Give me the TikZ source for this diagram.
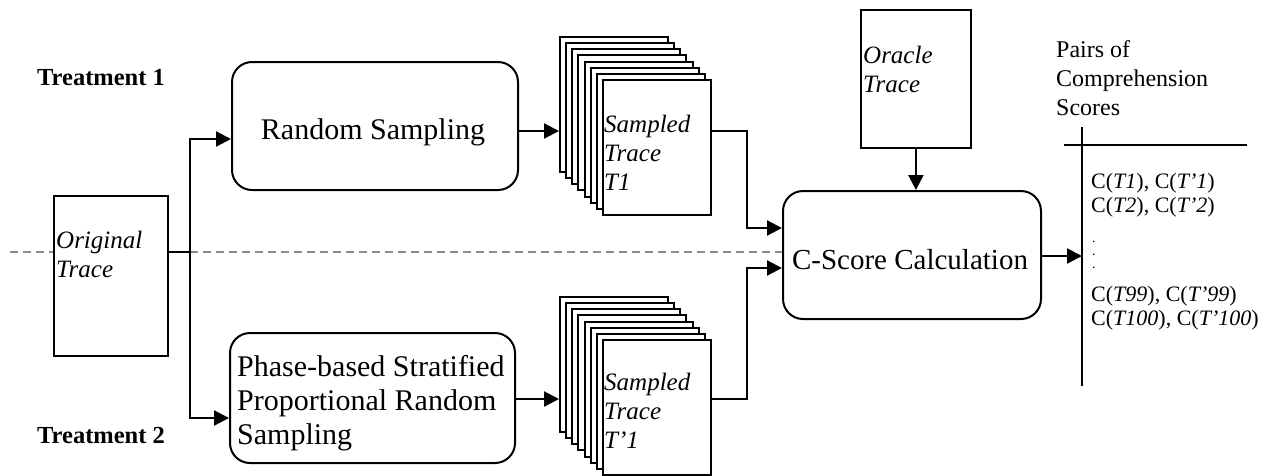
\documentclass[tikz,border=0pt]{standalone}
\usepackage{fontspec}
\setmainfont{Liberation Serif}
\usetikzlibrary{arrows.meta}
\newcommand\stacklines[1]{\begin{tabular}[t]{@{}l@{}}#1\end{tabular}}
\begin{document}
\begin{tikzpicture}[x=1pt,y=-1pt,
  rbox/.style={draw, line width=2pt, rounded corners=20pt, fill=white, inner sep=0pt, anchor=north west},
  trbox/.style={draw, line width=1.8pt, fill=white, anchor=north west, inner sep=0pt},
  page/.style={draw, line width=2pt, fill=white, anchor=north west, minimum width=108pt, minimum height=135pt, inner sep=0pt},
  conn/.style={line width=2.2pt},
  arr/.style={conn, -{Triangle[length=15pt,width=15pt]}},
  lbl/.style={anchor=base west, inner sep=0pt},
  trace/.style={lbl, font=\fontsize{25}{29}\selectfont\itshape},
  big/.style={inner sep=0pt, font=\fontsize{30}{34}\selectfont},
  treat/.style={lbl, font=\fontsize{24.5}{29}\selectfont\bfseries},
  score/.style={lbl, font=\fontsize{22}{24.5}\selectfont},
  sep/.style={line width=1.6pt, draw=black!45, dash pattern=on 8pt off 5pt}
]
\useasboundingbox (0,0) rectangle (1279,475);

% boxes
\node[trbox, minimum width=114pt, minimum height=160pt] (orig) at (53,195) {};
\node[rbox, minimum width=286pt, minimum height=128pt] (rs) at (231,61) {};
\node[rbox, minimum width=285pt, minimum height=130pt] (ps) at (229,332) {};
\node[rbox, minimum width=258pt, minimum height=128pt] (cs) at (782,190) {};
\node[trbox, minimum width=110pt, minimum height=138pt] (oracle) at (860,9) {};

\coordinate (dashL) at (10,252);

% stacks
\foreach \i in {0,...,7}{
  \node[page] (sa\i) at ({559+6.14*\i},{36+6.14*\i}) {};
}
\foreach \i in {0,...,7}{
  \node[page] (sb\i) at ({559+6.14*\i},{296+6.14*\i}) {};
}

% texts
\node[treat] (tr1) at (37,85) {Treatment 1};
\node[treat] (tr2) at (37,443) {Treatment 2};
\node[big, anchor=base] (rstxt) at (373,139) {Random Sampling};
\node[big, anchor=base west] (pstxt) at (237,376) {\stacklines{Phase-based Stratified\\Proportional Random\\Sampling}};
\node[inner sep=0pt, anchor=base, font=\fontsize{29}{34}\selectfont] (cstxt) at (910,269) {C-Score Calculation};
\node[trace] (origtxt) at (56,248) {\stacklines{Original\\Trace}};
\node[trace] (oracletxt) at (863,63) {\stacklines{Oracle\\Trace}};
\node[trace] (satxt) at (604,132) {\stacklines{Sampled\\Trace\\T1}};
\node[trace] (sbtxt) at (604,390) {\stacklines{Sampled\\Trace\\T’1}};
\node[lbl, font=\fontsize{24}{29}\selectfont] (pairs) at (1056,57) {\stacklines{Pairs of\\Comprehension\\Scores}};
\node[score] (sc1) at (1091,188) {\stacklines{C(\textit{T1}), C(\textit{T’1})\\C(\textit{T2}), C(\textit{T’2})}};
\node[lbl, font=\fontsize{14}{13}\selectfont] (dots) at (1092,242) {\stacklines{.\\.\\.}};
\node[score] (sc2) at (1091,301) {\stacklines{C(\textit{T99}), C(\textit{T’99})\\C(\textit{T100}), C(\textit{T’100})}};

% table lines
\coordinate (vtop) at (1082,127);
\coordinate (vbot) at (1082,386);
\coordinate (hl) at (1064,145);
\coordinate (hr) at (1247,145);
\draw[line width=2pt] (vtop) -- (vbot);
\draw[line width=2pt] (hl) -- (hr);

% connectors
\coordinate (split) at (190,252);
\draw[sep] (dashL) -- (orig.west |- dashL);
\draw[sep] (split) -- (dashL -| cs.west);
\draw[conn] (orig.east |- split) -- (split);
\draw[arr] (split) |- ([yshift=-13pt]rs.west);
\draw[arr] (split) |- ([yshift=-20pt]ps.west);
\draw[arr] ([yshift=-5pt]rs.east) -- ([yshift=-5pt]rs.east -| sa0.west);
\draw[arr] ([yshift=-1pt]ps.east) -- ([yshift=-1pt]ps.east -| sb0.west);
\draw[arr] ([yshift=16.5pt]sa7.east) -- ++(35,0) |- ([yshift=27pt]cs.west);
\draw[arr] ([yshift=8.5pt]sb7.east) -- ++(35,0) |- ([yshift=-13pt]cs.west);
\draw[arr] (oracle.south) -- (oracle.south |- cs.north);
\draw[arr] ([yshift=-1pt]cs.east) -- ([yshift=-1pt]cs.east -| vtop);
\end{tikzpicture}
\end{document}
